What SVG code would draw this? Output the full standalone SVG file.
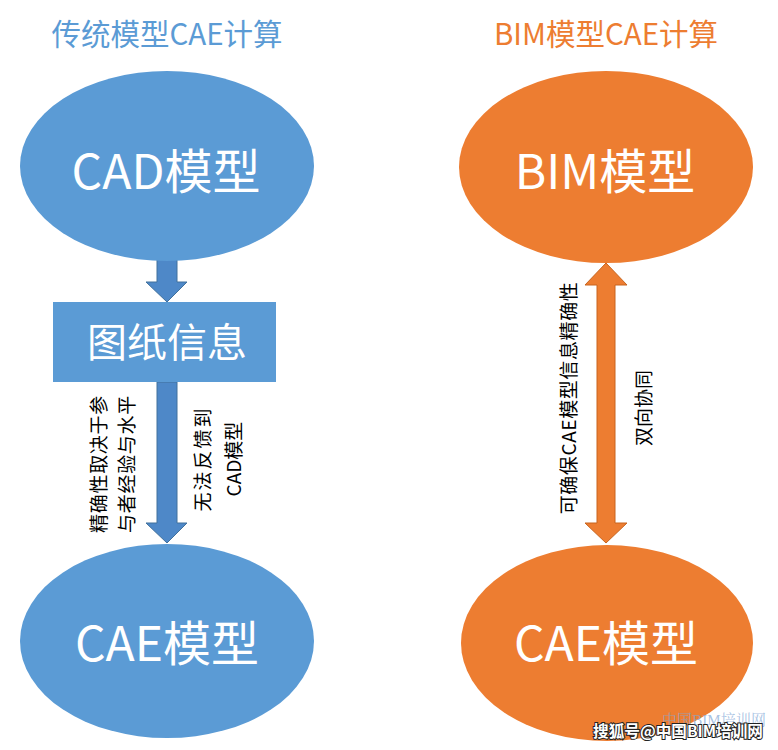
<svg xmlns="http://www.w3.org/2000/svg" width="778" height="750" viewBox="0 0 778 750">
<style>
  text { font-family: "Noto Sans CJK SC", "Noto Sans", sans-serif; }
  .title { font-size: 29.5px; text-anchor: middle; }
  .big { font-size: 48px; fill: #ffffff; text-anchor: middle; }
  .lbl { font-size: 19px; fill: #000000; text-anchor: middle; }
  .blue { fill: #5b9bd5; }
  .orange { fill: #ed7d31; }
  .arrB { fill: #4e88c8; stroke: #41719c; stroke-width: 1; }
  .arrO { fill: #ed7d31; stroke: #c8651f; stroke-width: 1; }
</style>
<rect width="778" height="750" fill="#ffffff"/>

<g id="title-left"><text class="title blue" x="167" y="45">传统模型CAE计算</text></g>
<g id="title-right"><text class="title orange" x="606" y="45">BIM模型CAE计算</text></g>

<g id="connectors">
  <path class="arrB" d="M157,258 L177,258 L177,282 L187,282 L167,302 L146,282 L157,282 Z"/>
  <path class="arrB" d="M157,382 L177,382 L177,523 L187,523 L167,543 L146,523 L157,523 Z"/>
  <path class="arrO" d="M606,263 L627,285 L615,285 L615,523 L627,523 L606,543 L585,523 L597,523 L597,285 L585,285 Z"/>
</g>

<g id="node-cad">
  <ellipse class="blue" cx="167" cy="166" rx="147" ry="95"/>
  <text class="big" x="166" y="189">CAD模型</text>
</g>
<g id="node-drawing">
  <rect class="blue" x="53" y="302" width="223" height="80"/>
  <text x="167" y="357" font-size="40" fill="#ffffff" text-anchor="middle">图纸信息</text>
</g>
<g id="node-cae-left">
  <ellipse class="blue" cx="167" cy="641" rx="147" ry="97"/>
  <text class="big" x="167" y="661">CAE模型</text>
</g>
<g id="node-bim">
  <ellipse class="orange" cx="606" cy="167" rx="147" ry="96"/>
  <text class="big" x="605" y="189">BIM模型</text>
</g>
<g id="node-cae-right">
  <ellipse class="orange" cx="607" cy="643" rx="146" ry="98"/>
  <text class="big" x="606" y="661">CAE模型</text>
</g>

<g id="labels">
  <text class="lbl" transform="translate(106,464) rotate(-90)" letter-spacing="0.7">精确性取决于参</text>
  <text class="lbl" transform="translate(134,464) rotate(-90)" letter-spacing="0.7">与者经验与水平</text>
  <text class="lbl" font-size="20" transform="translate(210,459) rotate(-90)" letter-spacing="2">无法反馈到</text>
  <text class="lbl" font-size="20" transform="translate(241,459) rotate(-90)">CAD模型</text>
  <text class="lbl" font-size="20" transform="translate(576,398) rotate(-90)" letter-spacing="0.6">可确保CAE模型信息精确性</text>
  <text class="lbl" transform="translate(651,408) rotate(-90)">双向协同</text>
</g>

<g id="watermark">
  <text x="714" y="725" font-size="15" fill="#7fa8d6" fill-opacity="0.7" text-anchor="middle" textLength="104" style="font-family:'Liberation Serif','Noto Serif CJK SC','Noto Sans CJK SC',serif">中国BIM培训网</text>
  <text x="593" y="737" font-size="16" font-weight="bold" fill="#ffffff" stroke="#222222" stroke-width="2" paint-order="stroke" textLength="170" lengthAdjust="spacingAndGlyphs">搜狐号@中国BIM培训网</text>
</g>
</svg>
